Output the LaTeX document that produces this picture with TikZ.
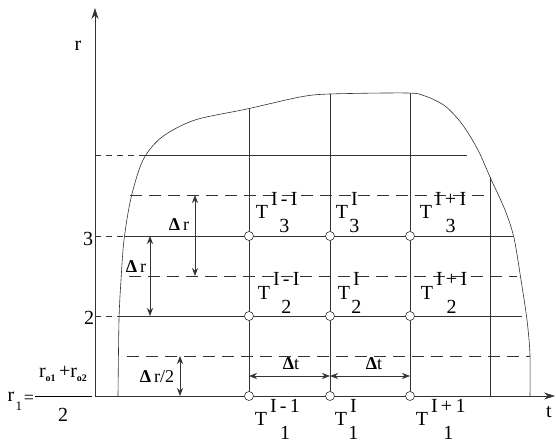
\documentclass[tikz,border=0pt]{standalone}
\usepackage{fontspec}
\setmainfont{Liberation Serif}
\usetikzlibrary{arrows.meta}
\newcommand{\Tlab}[5]{%
  \node[tf, anchor=base] (#1) at (#2,#3) {T};
  \node[tf, anchor=base west] (#1p) at ([xshift=2.5pt,yshift=13pt]#1.base east) {#4};
  \node[tf, anchor=base] (#1b) at ([yshift=-27pt]#1p.base) {#5};
}
\begin{document}
\begin{tikzpicture}[x=1pt,y=-1pt,
  ln/.style={line width=0.6pt, draw=black!80},
  dsh/.style={ln, dash pattern=on 12pt off 7pt},
  dshs/.style={ln, dash pattern=on 6pt off 5pt},
  dim/.style={ln, {Stealth[length=8pt,width=6pt]}-{Stealth[length=8pt,width=6pt]}},
  axis/.style={ln, -{Stealth[length=11pt,width=7pt]}},
  node0/.style={circle, draw=black!80, line width=0.6pt, fill=white, minimum size=9pt, inner sep=0},
  tf/.style={font=\fontsize{20}{22}\selectfont, inner sep=0},
  lf/.style={font=\fontsize{18}{20}\selectfont, inner sep=0},
]
\useasboundingbox (0,0) rectangle (556,443);
\fill[white] (0,0) rectangle (556,443);

% axes
\coordinate (O) at (95,396);
\coordinate (Ytop) at (95,8);
\coordinate (Xend) at (555,396);
\draw[axis] (O) -- (Ytop);
\draw[axis] (O) -- (Xend);
\node[tf] (rlab) at (78,46) {r};
\node[tf] (tlab) at (549,412) {t};

% boundary curve
\draw[ln] plot[smooth, tension=0.5] coordinates {(118,396) (119,320) (121,280) (124,240) (131,198) (143,160) (162,137) (195,120) (247,109) (300,97) (330,94) (407,93) (425,96) (445,106) (462,124) (478,150) (490,177) (505,210) (514,238) (521,280) (527,320) (530,355) (530,396)};

% solid levels
\coordinate (a4) at (95,155); \coordinate (b4) at (141,155); \coordinate (c4) at (467,155);
\coordinate (a3) at (95,236); \coordinate (b3) at (124,236); \coordinate (c3) at (513,236);
\coordinate (a2) at (95,316); \coordinate (b2) at (120,316); \coordinate (c2) at (522,316);
\draw[dshs] (a4) -- (b4); \draw[ln] (b4) -- (c4);
\draw[dshs] (a3) -- (b3); \draw[ln] (b3) -- (c3);
\draw[dshs] (a2) -- (b2); \draw[ln] (b2) -- (c2);

% dashed half levels
\coordinate (d3l) at (130,195); \coordinate (d3r) at (484,195);
\coordinate (d2l) at (129,276); \coordinate (d2r) at (517,276);
\coordinate (d1l) at (127,356); \coordinate (d1r) at (530,356);
\draw[dsh] (d3l) -- (d3r);
\draw[dsh] (d2l) -- (d2r);
\draw[dsh] (d1l) -- (d1r);

% verticals
\coordinate (v1t) at (249,109); \coordinate (v1b) at (249,396);
\coordinate (v2t) at (330,94);  \coordinate (v2b) at (330,396);
\coordinate (v3t) at (410,93);  \coordinate (v3b) at (410,396);
\coordinate (v4t) at (490,177); \coordinate (v4b) at (490,396);
\draw[ln] (v1t) -- (v1b);
\draw[ln] (v2t) -- (v2b);
\draw[ln] (v3t) -- (v3b);
\draw[ln] (v4t) -- (v4b);

% grid nodes
\foreach \c/\x in {1/249,2/330,3/410}{
  \node[node0] (n\c3) at (\x,236) {};
  \node[node0] (n\c2) at (\x,316) {};
  \node[node0] (n\c1) at (\x,396) {};
}

% left labels
\node[tf] (l3) at (88,239) {3};
\node[tf] (l2) at (89,318) {2};

% dimension arrows
\coordinate (dr1t) at (195,195); \coordinate (dr1b) at (195,276);
\coordinate (dr2t) at (150,236); \coordinate (dr2b) at (150,316);
\coordinate (dr3t) at (180,356); \coordinate (dr3b) at (180,396);
\draw[dim] (dr1t) -- (dr1b);
\draw[dim] (dr2t) -- (dr2b);
\draw[dim] (dr3t) -- (dr3b);
\node[lf] (ldr1) at (179,225) {\textbf{Δ}\,r};
\node[lf] (ldr2) at (136,267) {\textbf{Δ}\,r};
\node[lf] (ldr3) at (157,377) {\textbf{Δ}\,r/2};

\coordinate (dt1) at (249,376); \coordinate (dt2) at (330,376); \coordinate (dt3) at (410,376);
\draw[dim] (dt1) -- (dt2);
\draw[dim] (dt2) -- (dt3);
\node[lf] (ldt1) at (291,364) {\textbf{Δ}t};
\node[lf] (ldt2) at (374,364) {\textbf{Δ}t};

% T labels
\Tlab{L13}{262}{219}{I\,-\,I}{3}
\Tlab{L23}{342}{219}{I}{3}
\Tlab{L33}{426}{219}{I\,+\,I}{3}
\Tlab{L12}{264}{299}{I\,-\,I}{2}
\Tlab{L22}{344}{299}{I}{2}
\Tlab{L32}{427}{299}{I\,+\,I}{2}
\Tlab{L11}{261}{425}{I\,-\,1}{1}
\Tlab{L21}{341}{425}{I}{1}
\Tlab{L31}{422}{425}{I\,+\,1}{1}

% formula r1 = (ro1+ro2)/2
\node[tf, anchor=base] (fr) at (11,401) {r};
\node[font=\fontsize{13}{13}\selectfont, inner sep=0, anchor=base] (f1) at (19,410) {1};
\node[font=\fontsize{18}{20}\selectfont, inner sep=0, anchor=base] (feq) at (29,403) {=};
\node[font=\fontsize{20}{22}\selectfont, inner sep=0, anchor=base] (fnum) at (63,377)
  {r{\fontsize{10}{10}\selectfont\raisebox{-4pt}{\textbf{o1}}}\,+r{\fontsize{10}{10}\selectfont\raisebox{-4pt}{\textbf{o2}}}};
\coordinate (fbl) at (35,396); \coordinate (fbr) at (92,396);
\draw[line width=0.8pt] (fbl) -- (fbr);
\node[tf, anchor=base] (fden) at (63,421) {2};
\end{tikzpicture}
\end{document}
